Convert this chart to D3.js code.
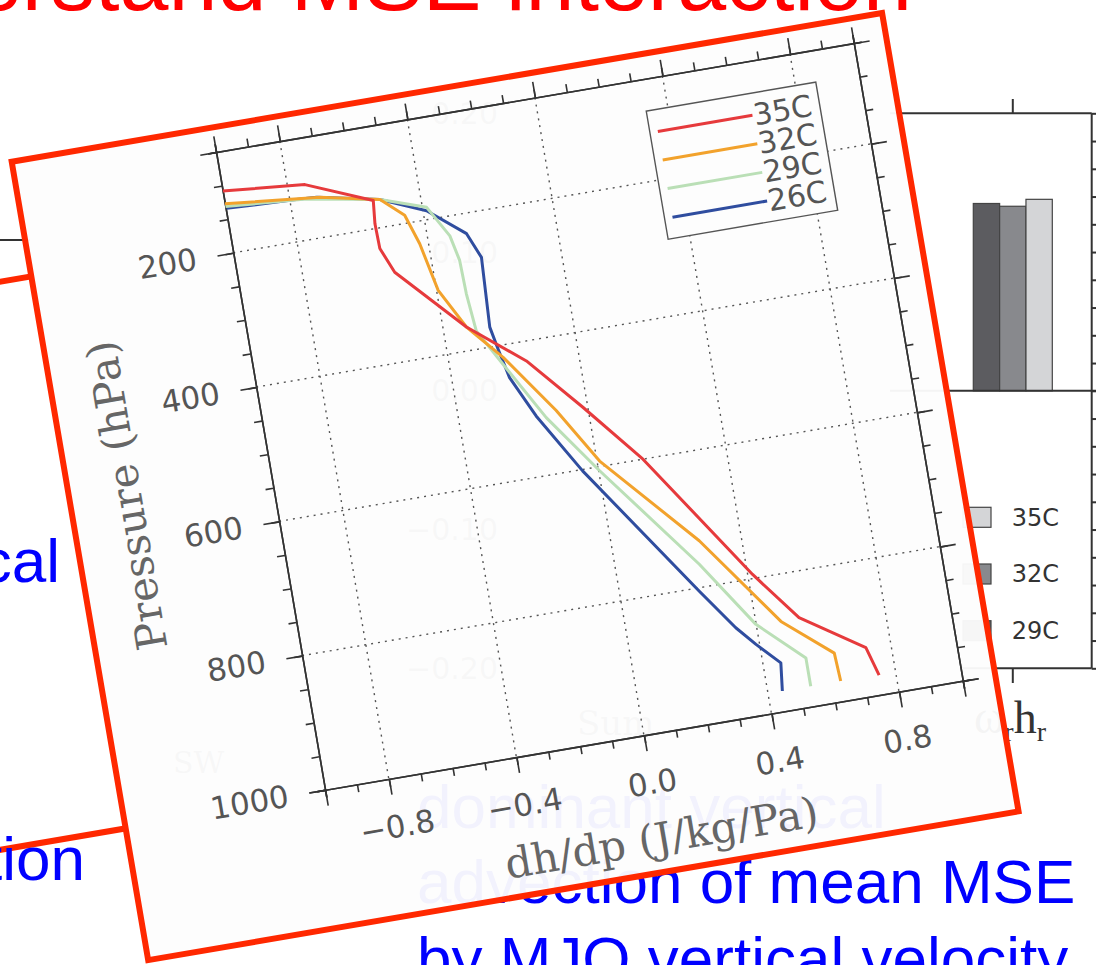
<!DOCTYPE html>
<html>
<head>
<meta charset="utf-8">
<script src="https://cdn.jsdelivr.net/npm/d3@7"></script>
<style>
  body { margin: 0; background: #fff; overflow: hidden; }
</style>
</head>
<body>
<script>
// profiles: pressure (hPa) and dh/dp (J/kg/Pa)
var p35 = [108, 119, 159, 193, 230, 268, 365, 429, 510, 600, 794, 868, 928, 971];
var h35 = [-1.0, -0.746, -0.546, -0.553, -0.551, -0.518, -0.328, -0.163, -0.015, 0.141, 0.415, 0.534, 0.722, 0.748];
var p32 = [127, 141, 159, 188, 233, 305, 365, 418, 508, 592, 732, 869, 928, 970];
var h32 = [-1.0, -0.707, -0.525, -0.458, -0.427, -0.395, -0.328, -0.232, -0.098, 0.008, 0.270, 0.477, 0.623, 0.628];
var p29 = [131, 140, 159, 182, 229, 267, 317, 373, 428, 516, 606, 766, 867, 928, 970];
var h29 = [-1.0, -0.75, -0.525, -0.387, -0.331, -0.314, -0.311, -0.300, -0.236, -0.132, 0.003, 0.258, 0.399, 0.534, 0.534];
var p26 = [134, 138, 140, 159, 187, 230, 268, 371, 405, 449, 511, 602, 805, 867, 896, 929, 970];
var h26 = [-0.997, -0.8, -0.717, -0.525, -0.389, -0.279, -0.246, -0.257, -0.243, -0.223, -0.162, -0.049, 0.244, 0.336, 0.389, 0.455, 0.445];

var seriesNames = ["35C", "32C", "29C", "26C"];
var seriesColors = ["#e63a3c", "#f2a22c", "#badfb6", "#2f4d9f"];
var xTicks = [-0.8, -0.4, 0, 0.4, 0.8];
var yTicks = [200, 400, 600, 800, 1000];

// bar panel of the slide behind the chart
var barNames = ["29C", "32C", "35C"];
var barValues = [0.135, 0.133, 0.138];
var barColors = ["#5c5c60", "#88898d", "#d4d5d7"];
var ghostTicks = [0.2, 0.1, 0, -0.1, -0.2];

var W = 1096, H = 965;
var frameTransform = "translate(11.7,161.7) rotate(-9.7)";

var svg = d3.select("body").append("svg")
    .attr("width", W)
    .attr("height", H);

// mask that hides things under the chart frame
var defs = svg.append("defs");
var mask = defs.append("mask").attr("id", "outside")
    .attr("maskUnits", "userSpaceOnUse")
    .attr("x", 0).attr("y", 0).attr("width", W).attr("height", H);
mask.append("rect").attr("width", W).attr("height", H).attr("fill", "#fff");
mask.append("rect").attr("transform", frameTransform)
    .attr("width", 883).attr("height", 810).attr("fill", "#000");

// ---------- slide underneath ----------
var slide = svg.append("g");

slide.append("text")
    .attr("x", 912).attr("y", 10)
    .attr("text-anchor", "end")
    .attr("font-family", "Liberation Sans")
    .attr("font-size", 88)
    .attr("fill", "#ff0000")
    .text("Understand MSE interaction");

slide.append("line")
    .attr("x1", 0).attr("x2", 30).attr("y1", 240).attr("y2", 240)
    .attr("stroke", "#333").attr("stroke-width", 2);

// red box of the other picture on the left
slide.append("g")
    .attr("mask", "url(#outside)")
    .append("rect")
    .attr("transform", "translate(-300,333) rotate(-9.7)")
    .attr("width", 700).attr("height", 560)
    .attr("fill", "none")
    .attr("stroke", "#ff2800").attr("stroke-width", 6);

var blueText = [
    { t: "cal", x: 60, y: 582, a: "end" },
    { t: "tion", x: 85, y: 880, a: "end" },
    { t: "dominant vertical", x: 417, y: 828, a: "start" },
    { t: "advection of mean MSE", x: 417, y: 903, a: "start" },
    { t: "by MJO vertical velocity", x: 417, y: 980, a: "start" }
];
slide.selectAll("text.blue")
    .data(blueText)
    .enter().append("text")
    .attr("class", "blue")
    .attr("x", function(d) { return d.x; })
    .attr("y", function(d) { return d.y; })
    .attr("text-anchor", function(d) { return d.a; })
    .attr("font-family", "Liberation Sans")
    .attr("font-size", 62)
    .attr("fill", "#0000ff")
    .text(function(d) { return d.t; });

// bar panel
var yb = d3.scaleLinear().domain([-0.2, 0.2]).range([668.3, 113.3]);
var xb = d3.scaleBand().domain(barNames).range([973.3, 1052.3]);

slide.selectAll("text.ghost")
    .data(ghostTicks)
    .enter().append("text")
    .attr("class", "ghost")
    .attr("x", 498)
    .attr("y", function(d) { return yb(d); })
    .attr("dy", "0.35em")
    .attr("text-anchor", "end")
    .attr("font-family", "DejaVu Sans")
    .attr("font-size", 30)
    .attr("fill", "#777")
    .text(d3.format(".2f"));
slide.append("text").attr("x", 577).attr("y", 735)
    .attr("font-family", "DejaVu Serif").attr("font-size", 34).attr("fill", "#777").text("Sum");
slide.append("text").attr("x", 173).attr("y", 773)
    .attr("font-family", "DejaVu Serif").attr("font-size", 30).attr("fill", "#777").text("SW");

slide.selectAll("rect.bar")
    .data(barValues)
    .enter().append("rect")
    .attr("class", "bar")
    .attr("x", function(d, i) { return xb(barNames[i]); })
    .attr("width", xb.bandwidth())
    .attr("y", function(d) { return yb(d); })
    .attr("height", function(d) { return yb(0) - yb(d); })
    .attr("fill", function(d, i) { return barColors[i]; })
    .attr("stroke", "#444").attr("stroke-width", 1.2);

var boxStroke = "#333";
[[890, 1091.7, 113.3, 113.3], [890, 1096, yb(0), yb(0)], [960, 1091.7, 668.3, 668.3], [1091.7, 1091.7, 113.3, 668.3]]
    .forEach(function(l) {
        slide.append("line")
            .attr("x1", l[0]).attr("x2", l[1]).attr("y1", l[2]).attr("y2", l[3])
            .attr("stroke", boxStroke).attr("stroke-width", 2);
    });

var rightAxis = slide.append("g")
    .attr("transform", "translate(1091.7,0)")
    .call(d3.axisRight(yb).tickValues(d3.range(-10, 11).map(function(d) { return d / 50; }))
        .tickSize(8).tickFormat(""));
rightAxis.select(".domain").remove();
rightAxis.selectAll("line").attr("stroke", boxStroke).attr("stroke-width", 2);

var midX = xb("32C") + xb.bandwidth() / 2;
slide.append("line").attr("x1", midX).attr("x2", midX).attr("y1", 99).attr("y2", 113.3)
    .attr("stroke", boxStroke).attr("stroke-width", 2);
slide.append("line").attr("x1", midX).attr("x2", midX).attr("y1", 668.3).attr("y2", 683)
    .attr("stroke", boxStroke).attr("stroke-width", 2);

var barLegend = barNames.slice().reverse();
slide.selectAll("rect.bleg")
    .data(barLegend)
    .enter().append("rect")
    .attr("class", "bleg")
    .attr("x", 963).attr("width", 28)
    .attr("y", function(d, i) { return 507.3 + i * 56.7; })
    .attr("height", 20)
    .attr("fill", function(d) { return barColors[barNames.indexOf(d)]; })
    .attr("stroke", "#444").attr("stroke-width", 1.2);
slide.selectAll("text.bleg")
    .data(barLegend)
    .enter().append("text")
    .attr("class", "bleg")
    .attr("x", 1011.7)
    .attr("y", function(d, i) { return 517.3 + i * 56.7; })
    .attr("dy", "0.35em")
    .attr("font-family", "DejaVu Sans")
    .attr("font-size", 24)
    .attr("fill", "#333")
    .text(function(d) { return d; });

var hr = slide.append("text")
    .attr("x", 1046).attr("y", 733)
    .attr("text-anchor", "end")
    .attr("font-family", "Liberation Serif")
    .attr("font-size", 46)
    .attr("fill", "#333");
hr.append("tspan").text("\u03c9");
hr.append("tspan").attr("dy", 8).attr("font-size", 28).text("r");
hr.append("tspan").attr("dy", -8).text("h");
hr.append("tspan").attr("dy", 8).attr("font-size", 28).text("r");

// ---------- the rotated chart ----------
var frame = svg.append("g").attr("transform", frameTransform);

frame.append("rect")
    .attr("width", 883).attr("height", 810)
    .attr("fill", "#fdfdfd").attr("fill-opacity", 0.955)
    .attr("stroke", "#ff2800").attr("stroke-width", 6);

var size = 647;
var g = frame.append("g").attr("transform", "translate(203,25)");

var x = d3.scaleLinear().domain([-1, 1]).range([0, size]);
var y = d3.scaleLinear().domain([50, 1000]).range([0, size]);

g.append("defs").append("clipPath").attr("id", "plotclip")
    .append("rect").attr("width", size).attr("height", size);

// dotted grid
var grid = g.append("g")
    .attr("stroke", "#555").attr("stroke-width", 1.4)
    .attr("stroke-dasharray", "2,5");
grid.selectAll("line.gx")
    .data(xTicks)
    .enter().append("line")
    .attr("x1", x).attr("x2", x)
    .attr("y1", 0).attr("y2", size);
grid.selectAll("line.gy")
    .data(yTicks.filter(function(d) { return d < 1000; }))
    .enter().append("line")
    .attr("x1", 0).attr("x2", size)
    .attr("y1", y).attr("y2", y);

// axes, ticks pointing outward on all four sides
var xMinor = d3.range(-10, 11).map(function(d) { return d / 10; });
var yMinor = d3.range(1, 21).map(function(d) { return d * 50; });

function styleAxis(sel) {
    sel.select(".domain").attr("stroke", "#333").attr("stroke-width", 1.6);
    sel.selectAll(".tick line").attr("stroke", "#333").attr("stroke-width", 1.6);
    sel.selectAll(".tick text")
        .attr("font-family", "DejaVu Sans")
        .attr("font-size", 31)
        .attr("fill", "#555");
}

g.append("g").attr("transform", "translate(0," + size + ")")
    .call(d3.axisBottom(x).tickValues(xMinor).tickSize(8).tickFormat("")).call(styleAxis);
g.append("g").attr("transform", "translate(0," + size + ")")
    .call(d3.axisBottom(x).tickValues(xTicks).tickSize(16).tickPadding(21).tickFormat(d3.format(".1f"))).call(styleAxis);
g.append("g")
    .call(d3.axisTop(x).tickValues(xMinor).tickSize(8).tickFormat("")).call(styleAxis);
g.append("g")
    .call(d3.axisTop(x).tickValues(xTicks).tickSize(16).tickFormat("")).call(styleAxis);

g.append("g")
    .call(d3.axisLeft(y).tickValues(yMinor).tickSize(8).tickFormat("")).call(styleAxis);
g.append("g")
    .call(d3.axisLeft(y).tickValues(yTicks).tickSize(16).tickPadding(21).tickFormat(d3.format("d"))).call(styleAxis);
g.append("g").attr("transform", "translate(" + size + ",0)")
    .call(d3.axisRight(y).tickValues(yMinor).tickSize(8).tickFormat("")).call(styleAxis);
g.append("g").attr("transform", "translate(" + size + ",0)")
    .call(d3.axisRight(y).tickValues(yTicks).tickSize(16).tickFormat("")).call(styleAxis);

// axis titles
g.append("text")
    .attr("transform", "translate(-146," + (size / 2) + ") rotate(-90)")
    .attr("dy", "0.35em")
    .attr("text-anchor", "middle")
    .attr("font-family", "DejaVu Serif")
    .attr("font-size", 42)
    .attr("fill", "#666")
    .text("Pressure (hPa)");
g.append("text")
    .attr("x", size / 2).attr("y", size + 104)
    .attr("dy", "0.35em")
    .attr("text-anchor", "middle")
    .attr("font-family", "DejaVu Serif")
    .attr("font-size", 42)
    .attr("fill", "#666")
    .text("dh/dp (J/kg/Pa)");

// profiles
var profiles = [
    d3.zip(p35, h35),
    d3.zip(p32, h32),
    d3.zip(p29, h29),
    d3.zip(p26, h26)
];
var line = d3.line()
    .x(function(d) { return x(d[1]); })
    .y(function(d) { return y(d[0]); });

g.append("g").attr("clip-path", "url(#plotclip)")
    .selectAll("path")
    .data(profiles.slice().reverse())
    .enter().append("path")
    .attr("fill", "none")
    .attr("stroke", function(d, i) { return seriesColors[3 - i]; })
    .attr("stroke-width", 3)
    .attr("stroke-linejoin", "round")
    .attr("d", line);

// legend
var leg = g.append("g");
leg.append("rect")
    .attr("x", 431).attr("y", 32).attr("width", 172).attr("height", 130)
    .attr("fill", "#fdfdfd").attr("stroke", "#555").attr("stroke-width", 1.4);
leg.selectAll("line")
    .data(seriesNames)
    .enter().append("line")
    .attr("x1", 439).attr("x2", 535)
    .attr("y1", function(d, i) { return 54 + i * 29; })
    .attr("y2", function(d, i) { return 54 + i * 29; })
    .attr("stroke", function(d, i) { return seriesColors[i]; })
    .attr("stroke-width", 3);
leg.selectAll("text")
    .data(seriesNames)
    .enter().append("text")
    .attr("x", 536)
    .attr("y", function(d, i) { return 54 + i * 29; })
    .attr("dy", "0.35em")
    .attr("font-family", "DejaVu Sans")
    .attr("font-size", 30)
    .attr("fill", "#555")
    .text(function(d) { return d; });
</script>
</body>
</html>
